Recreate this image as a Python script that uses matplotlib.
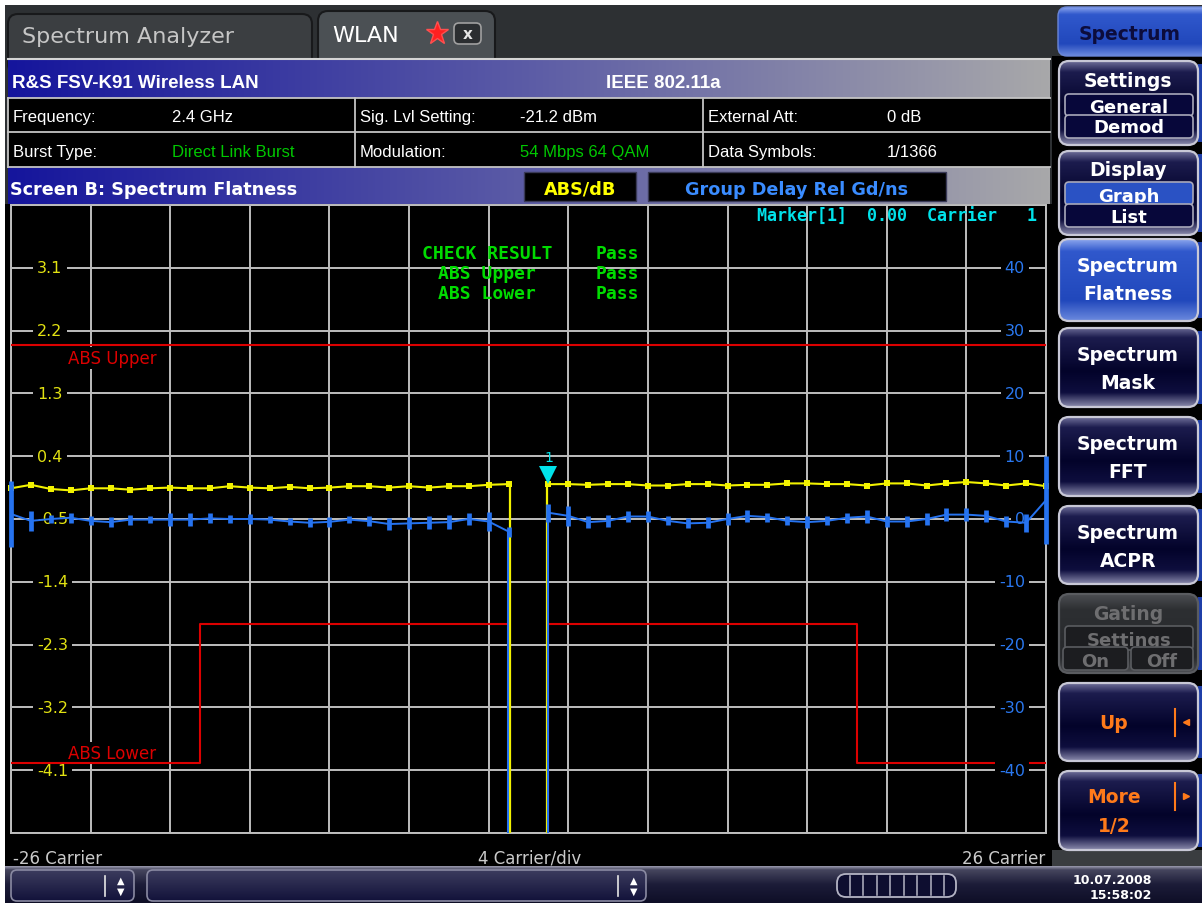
import numpy as np
import matplotlib.pyplot as plt
from matplotlib.colors import to_rgb
from matplotlib.patches import Rectangle, FancyBboxPatch
from matplotlib.transforms import blended_transform_factory, offset_copy

W, H = 1202, 904

# spectrum flatness (ABS, dB) per carrier; DC carrier 0 is not used
carriers_neg = np.arange(-26, 0)
carriers_pos = np.arange(1, 27)
flat_neg = np.array([-0.06, -0.01, -0.07, -0.09, -0.06, -0.06, -0.08, -0.06, -0.05, -0.06,
                     -0.06, -0.03, -0.05, -0.06, -0.04, -0.06, -0.05, -0.03, -0.03, -0.05,
                     -0.03, -0.05, -0.03, -0.03, -0.01, 0.00])
flat_pos = np.array([0.00, 0.00, -0.01, 0.00, 0.00, -0.02, -0.02, 0.00, 0.00, -0.02,
                     -0.01, -0.01, 0.01, 0.01, 0.00, 0.00, -0.02, 0.01, 0.01, -0.02,
                     0.01, 0.03, 0.01, -0.02, 0.01, -0.03])

# relative group delay (ns) and its spread per carrier
gd_neg = np.array([0.8, -0.3, 0.0, 0.2, -0.3, -0.5, -0.1, -0.1, -0.1, -0.1,
                   0.1, 0.0, 0.0, -0.1, -0.4, -0.6, -0.45, -0.1, -0.35, -0.8,
                   -0.7, -0.6, -0.5, 0.0, -0.4, -2.0])
gd_pos = np.array([1.0, 0.5, -0.5, -0.3, 0.4, 0.4, -0.3, -0.7, -0.6, 0.0,
                   0.5, 0.3, -0.3, -0.5, -0.3, 0.2, 0.4, -0.4, -0.4, 0.0,
                   0.7, 0.7, 0.5, -0.4, -0.6, 3.0])
gd_spread_neg = np.array([5.2, 1.6, 0.6, 0.8, 0.7, 0.75, 0.8, 0.6, 1.0, 1.0,
                          0.8, 0.7, 0.75, 0.6, 0.6, 0.7, 0.8, 0.6, 0.8, 0.95,
                          0.95, 1.05, 1.1, 0.95, 1.5, 0.8])
gd_spread_pos = np.array([1.4, 1.6, 0.95, 0.95, 0.8, 0.8, 0.7, 0.8, 0.85, 0.95,
                          0.95, 0.7, 0.7, 0.95, 0.7, 0.8, 1.0, 0.85, 0.8, 0.95,
                          1.0, 1.0, 0.95, 0.8, 1.4, 7.0])

# limit lines (dB)
abs_upper = 2.0
abs_lower_inner = -2.0   # carriers +/-1 .. +/-16
abs_lower_outer = -4.0   # carriers +/-17 .. +/-26
inner_edge = 16

left_ticks = [3.1, 2.2, 1.3, 0.4, -0.5, -1.4, -2.3, -3.2, -4.1]
right_ticks = [40, 30, 20, 10, 0, -10, -20, -30, -40]

info_rows = [
    [("Frequency:", "2.4 GHz"), ("Sig. Lvl Setting:", "-21.2 dBm"), ("External Att:", "0 dB")],
    [("Burst Type:", "Direct Link Burst"), ("Modulation:", "54 Mbps 64 QAM"), ("Data Symbols:", "1/1366")],
]
green_values = ["Direct Link Burst", "54 Mbps 64 QAM"]

check_lines = [("CHECK RESULT", "Pass"), ("ABS Upper", "Pass"), ("ABS Lower", "Pass")]
marker_carrier = 1

YEL = '#f2f200'
BLUE = '#2673f0'
RED = '#dc0000'
CYAN = '#00e2ea'
GREEN = '#00dc00'
GRID = '#bebebe'
ORANGE = '#ff7a1a'

fig = plt.figure(figsize=(W / 100, H / 100), dpi=100, facecolor='white')
ui = fig.add_axes([0, 0, 1, 1], zorder=0)
ui.axis('off')


def rect(x0, y0, x1, y1, fc, ec='none', lw=0, z=1):
    ui.add_patch(Rectangle((x0, y0), x1 - x0, y1 - y0, fc=fc, ec=ec, lw=lw, zorder=z))


def rbox(x0, y0, x1, y1, r, fc='none', ec='none', lw=0, z=2):
    p = FancyBboxPatch((x0, y0), x1 - x0, y1 - y0, boxstyle=f'round,pad=0,rounding_size={r}',
                       fc=fc, ec=ec, lw=lw, zorder=z)
    ui.add_patch(p)
    return p


def gradient(x0, y0, x1, y1, stops, horizontal=False, clip=None, z=1):
    pos = [p for p, _ in stops]
    cols = np.array([to_rgb(c) for _, c in stops])
    t = np.linspace(0, 1, 256)
    img = np.stack([np.interp(t, pos, cols[:, k]) for k in range(3)], axis=-1)
    img = img[None, :, :] if horizontal else img[:, None, :]
    im = ui.imshow(img, extent=(x0, x1, y1, y0), aspect='auto', interpolation='bilinear', zorder=z)
    if clip is not None:
        im.set_clip_path(clip)


def label(x, y, s, color='white', size=13.5, weight='bold', ha='center', va='baseline',
          family='DejaVu Sans', z=6):
    ui.text(x, y, s, color=color, fontsize=size, fontweight=weight, ha=ha, va=va,
            family=family, zorder=z)


# ---- screen chrome ----
rect(5, 6, W, H, '#2d3033', z=0.5)
rect(5, 205, 1052, 868, 'black', z=1)
rect(1052, 57, W, 851, 'black', z=1)
rect(1052, 851, W, 868, '#3a3d40', z=1)

# tabs
rbox(8, 15, 312, 75, 10, fc='#3b3e41', ec='#18191b', lw=1.5, z=1.5)
label(22, 43, 'Spectrum Analyzer', color='#c6c6c6', size=16, weight='normal', ha='left')
rbox(318, 12, 495, 75, 10, fc='#4b5054', ec='#18191b', lw=1.5, z=1.5)
label(332, 42, 'WLAN', size=16, weight='normal', ha='left')
ui.plot(437, 34, marker='*', ms=17, color='#ff2020', mec='#ff5050', zorder=3)
rbox(454, 24, 481, 45, 5, fc='#2b2e31', ec='#a0a0a0', lw=1.2, z=3)
label(467.5, 34.5, 'x', size=11, va='center', color='#e6e6e6')

BAR = [(0, '#15159c'), (0.5, '#5c5ca6'), (1, '#a8a8aa')]

# title bar
gradient(8, 59, 1050, 99, BAR, horizontal=True, z=2)
ui.plot([8, 1050], [60, 60], color='#d4d4d4', lw=1.5, zorder=3)
label(12, 87.5, 'R&S FSV-K91 Wireless LAN', size=13.5, ha='left', family='Liberation Sans')
label(606, 87.5, 'IEEE 802.11a', size=13.5, ha='left', family='Liberation Sans')

# info table
rect(8, 99, 1050, 168, 'black', z=2)
for yy in (99, 133, 168):
    ui.plot([8, 1050], [yy, yy], color='#c4c4c4', lw=1.3, zorder=3)
for xx in (8, 355, 703):
    ui.plot([xx, xx], [99, 168], color='#c4c4c4', lw=1.3, zorder=3)
col_x = [(13, 172), (360, 520), (708, 887)]
for row, base in zip(info_rows, (122, 157)):
    for (name, value), (xl, xv) in zip(row, col_x):
        label(xl, base, name, size=12, weight='normal', ha='left', family='Liberation Sans')
        label(xv, base, value, size=12, weight='normal', ha='left', family='Liberation Sans',
              color='#00c800' if value in green_values else 'white')

# screen bar
gradient(8, 168, 1050, 205, BAR, horizontal=True, z=2)
label(10, 195, 'Screen B: Spectrum Flatness', size=12.7, ha='left')
rect(524, 173, 636, 202, 'black', ec='#3a3a58', lw=1, z=3)
label(580, 195, 'ABS/dB', color='#ffff00', size=12.7)
rect(648, 173, 946, 202, 'black', ec='#3a3a58', lw=1, z=3)
label(797, 195, 'Group Delay Rel Gd/ns', color='#3a8cff', size=12.7)

# plot footer
label(13, 859, '-26 Carrier', color='#cacaca', size=12, weight='normal', ha='left', va='center')
label(530, 859, '4 Carrier/div', color='#cacaca', size=12, weight='normal', va='center')
label(1045, 859, '26 Carrier', color='#cacaca', size=12, weight='normal', ha='right', va='center')

# ---- softkeys ----
NAVY = [(0, '#70709a'), (0.13, '#1c1c4e'), (0.55, '#03032a'), (0.82, '#0e0e3e'), (1, '#8c8cae')]
BLUEKEY = [(0, '#8ca6ee'), (0.15, '#3058cc'), (0.75, '#2148bc'), (1, '#6c8ade')]
GREYKEY = [(0, '#4c4e52'), (0.2, '#2d2f32'), (0.8, '#27292c'), (1, '#4c4e52')]


def softkey(y0, y1, stops, edge='#c8c8d6'):
    p = rbox(1059, y0, 1198, y1, 10, ec=edge, lw=1.6, z=3)
    gradient(1059, y0, 1198, y1, stops, clip=p, z=2)
    rect(1198, y0 + 3, W, y1 - 3, '#1f3fa8', z=2)


def subkey(x0, y0, x1, y1, text, base, fc='#07073a', tc='white', z=7):
    rbox(x0, y0, x1, y1, 4, fc=fc, ec='#a8a8ba', lw=1.2, z=z)
    label((x0 + x1) / 2, base, text, color=tc, size=13, z=z + 0.5)


top = rbox(1058, 8, 1230, 57, 9, ec='#6a86d8', lw=1, z=3)
gradient(1058, 8, W, 57, BLUEKEY, clip=top, z=2)
label(1130, 40, 'Spectrum', color='#0c0c3c')

softkey(62, 146, NAVY)
label(1128, 87, 'Settings')
subkey(1065, 95, 1193, 117, 'General', 113)
subkey(1065, 116, 1193, 139, 'Demod', 133, z=9)

softkey(152, 236, NAVY)
label(1128, 176, 'Display')
subkey(1065, 183, 1193, 206, 'Graph', 202, fc='#2a52c4')
subkey(1065, 205, 1193, 228, 'List', 223, z=9)

for (y0, y1), (l1, l2), stops in zip([(240, 322), (329, 408), (418, 497), (507, 585)],
                                     [('Spectrum', 'Flatness'), ('Spectrum', 'Mask'),
                                      ('Spectrum', 'FFT'), ('Spectrum', 'ACPR')],
                                     [BLUEKEY, NAVY, NAVY, NAVY]):
    softkey(y0, y1, stops)
    label(1128, y0 + 32, l1)
    label(1128, y0 + 60, l2)

softkey(595, 674, GREYKEY, edge='#5a5c60')
label(1128, 620, 'Gating', color='#6e6e70')
rbox(1065, 627, 1193, 651, 4, fc='#1c1d20', ec='#5a5c60', lw=1.2, z=7)
label(1129, 646, 'Settings', color='#6e6e70', size=13, z=7.5)
rbox(1063, 648, 1128, 671, 4, fc='#1c1d20', ec='#5a5c60', lw=1.2, z=9)
label(1095, 667, 'On', color='#6e6e70', size=13, z=9.5)
rbox(1131, 648, 1193, 671, 4, fc='#1c1d20', ec='#5a5c60', lw=1.2, z=9)
label(1162, 667, 'Off', color='#6e6e70', size=13, z=9.5)

softkey(684, 762, NAVY)
label(1114, 729, 'Up', color=ORANGE)
ui.plot([1175, 1175], [710, 737], color=ORANGE, lw=1.5, zorder=6)
ui.plot(1186, 723, marker='<', ms=5, color=ORANGE, zorder=6)

softkey(772, 851, NAVY)
label(1114, 803, 'More', color=ORANGE)
label(1114, 832, '1/2', color=ORANGE)
ui.plot([1175, 1175], [784, 811], color=ORANGE, lw=1.5, zorder=6)
ui.plot(1186, 797, marker='>', ms=5, color=ORANGE, zorder=6)

# ---- status bar ----
gradient(5, 867, W, H, [(0, '#9c9cb0'), (0.1, '#46465e'), (0.5, '#1c1c38'), (1, '#0e0e26')], z=2)
STAT = [(0, '#3c3c5e'), (1, '#12123a')]
for x0, x1, div in ((11, 134, 104.5), (147, 646, 618)):
    p = rbox(x0, 871, x1, 902, 6, ec='#8a8aa2', lw=1.2, z=3.5)
    gradient(x0, 871, x1, 902, STAT, clip=p, z=3)
    ui.plot([div, div], [877, 897], color='#e6e6e6', lw=1.2, zorder=4)
    label(div + 16, 881, '\u25b2', size=7, va='center', weight='normal', z=4)
    label(div + 16, 892, '\u25bc', size=7, va='center', weight='normal', z=4)
rbox(837, 875, 956, 898, 9, fc='#0e0e30', ec='#b4b4c4', lw=1.3, z=3)
for k in range(8):
    xx = 849.5 + 13.5 * k
    ui.plot([xx, xx], [877, 896], color='#b4b4c4', lw=1.1, zorder=4)
label(1152, 884, '10.07.2008', size=9, ha='right', z=4)
label(1152, 899, '15:58:02', size=9, ha='right', z=4)

ui.set_xlim(0, W)
ui.set_ylim(H, 0)

# ---- measurement diagram ----
ax = fig.add_axes([11 / W, 1 - 834 / H, 1035 / W, 628 / H], zorder=1)
ax.set_facecolor('black')
ax.set_xlim(-26, 26)
ax.set_ylim(-5.0, 4.0)
ax.set_xticks(np.arange(-26, 27, 4))
ax.set_yticks(np.arange(-5.0, 4.01, 0.9))
ax.grid(True, color=GRID, lw=1.4)
ax.tick_params(length=0, labelleft=False, labelbottom=False)
for s in ax.spines.values():
    s.set_color(GRID)
    s.set_linewidth(1.4)

ytr = blended_transform_factory(ax.transAxes, ax.transData)
for v in left_ticks:
    ax.text(0.0251, v, f'{v:.1f}', transform=ytr, ha='left', va='center', color='#e2e212',
            fontsize=11.5, bbox=dict(fc='black', ec='none', pad=3), zorder=3)

# limit lines
ax.axhline(abs_upper, color=RED, lw=1.5, zorder=4)
ymin = ax.get_ylim()[0]
edge = inner_edge + 0.5
dc = carriers_pos[0]
lim_x = np.array([-26, -edge, -edge, -dc, -dc])
lim_y = [abs_lower_outer, abs_lower_outer, abs_lower_inner, abs_lower_inner, ymin]
ax.plot(lim_x, lim_y, color=RED, lw=1.5, zorder=4)
ax.plot(-lim_x, lim_y, color=RED, lw=1.5, zorder=4)
ax.annotate('ABS Upper', xy=(0, abs_upper), xycoords=('axes fraction', 'data'),
            xytext=(40.8, -9.4), textcoords='offset points', ha='left', va='center',
            color=RED, fontsize=12, bbox=dict(fc='black', ec='none', pad=1.5), zorder=3)
ax.annotate('ABS Lower', xy=(0, abs_lower_outer), xycoords=('axes fraction', 'data'),
            xytext=(40.8, 7.4), textcoords='offset points', ha='left', va='center',
            color=RED, fontsize=12, bbox=dict(fc='black', ec='none', pad=1.5), zorder=3)

# flatness trace
for c, f in ((carriers_neg, flat_neg), (carriers_pos, flat_pos)):
    ax.plot(c, f, color=YEL, lw=1.5, marker='s', ms=4.3, mew=0, zorder=5, clip_on=False)
ax.vlines([carriers_neg[-1] + 0.06, carriers_pos[0] - 0.06], ymin,
          [flat_neg[-1], flat_pos[0]], color=YEL, lw=1.6, zorder=5)

# group delay on the right scale
ax2 = ax.twinx()
ax2.set_zorder(2)
ax2.set_ylim(-50, 50)
ax2.axis('off')
rtr = blended_transform_factory(ax2.transAxes, ax2.transData)
for v in right_ticks:
    ax2.text(0.9797, v, f'{v}', transform=rtr, ha='right', va='center', color='#2a78f0',
             fontsize=11.5, bbox=dict(fc='black', ec='none', pad=3), zorder=3)

for c, g, sp in ((carriers_neg, gd_neg, gd_spread_neg), (carriers_pos, gd_pos, gd_spread_pos)):
    ax2.vlines(c, g - sp, g + sp, color=BLUE, lw=3.4, zorder=4, clip_on=False)
    ax2.plot(c, g, color=BLUE, lw=1.4, zorder=5, clip_on=False)
ax2.vlines([carriers_neg[-1] - 0.03, carriers_pos[0]], -50,
           [gd_neg[-1], gd_pos[0]], color=BLUE, lw=1.5, zorder=5)

# marker 1 on the flatness trace
mk_val = flat_pos[carriers_pos == marker_carrier][0]
tri = offset_copy(ax.transData, fig=fig, y=6.5, units='points')
ax2.plot([marker_carrier], [mk_val], marker='v', ms=13, color=CYAN, mew=0,
         transform=tri, zorder=7, clip_on=False)
num = offset_copy(ax.transData, fig=fig, y=19.5, units='points')
ax2.text(marker_carrier, mk_val, '1', transform=num, ha='center', va='center',
         color=CYAN, fontsize=10, zorder=7)
ax2.text(0.7208, 0.9825, f'Marker[1]  {mk_val:.2f}  Carrier   {marker_carrier}',
         transform=ax2.transAxes, ha='left', va='center', color=CYAN, fontsize=12,
         family='DejaVu Sans Mono', fontweight='bold', zorder=7)

# limit check summary
for i, (name, res) in enumerate(check_lines):
    yy = 0.9236 - i * 0.0315
    ax2.text(0.4599, yy, name, transform=ax2.transAxes, ha='center', va='center', color=GREEN,
             fontsize=13, family='DejaVu Sans Mono', fontweight='bold', zorder=7)
    ax2.text(0.5855, yy, res, transform=ax2.transAxes, ha='center', va='center', color=GREEN,
             fontsize=13, family='DejaVu Sans Mono', fontweight='bold', zorder=7)

fig.savefig('out.png', dpi=100, facecolor='white')
